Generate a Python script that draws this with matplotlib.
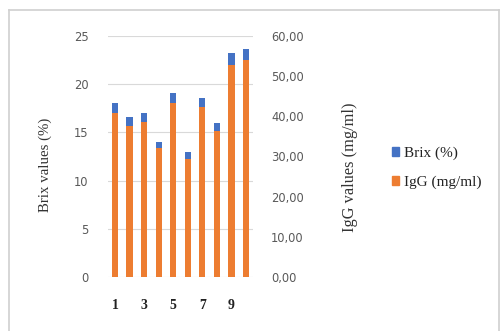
import matplotlib
matplotlib.use("Agg")
import matplotlib.pyplot as plt
from matplotlib.lines import Line2D
from matplotlib.patches import Patch

# colostrum samples: Brix refractometer reading and measured IgG
samples = [1, 2, 3, 4, 5, 6, 7, 8, 9, 10]
brix = [18.0, 16.6, 17.0, 14.0, 19.1, 13.0, 18.6, 16.0, 23.2, 23.7]
igg = [40.8, 37.6, 38.7, 32.0, 43.2, 29.5, 42.2, 36.3, 52.8, 54.0]
x_ticks = [1, 3, 5, 7, 9]
brix_ticks = [0, 5, 10, 15, 20, 25]
igg_ticks = [0, 10, 20, 30, 40, 50, 60]

BLUE = "#4472C4"
ORANGE = "#ED7D31"
GRID = "#D9D9D9"
TICK = "#595959"
SERIF = "Liberation Serif"

fig = plt.figure(figsize=(5.01, 3.31), dpi=100)

# chart frame (left/top/right edges)
fig.add_artist(Line2D([9 / 501, 9 / 501], [0, 1 - 10 / 331], color="#D0D0D0", lw=1.2))
fig.add_artist(Line2D([9 / 501, 499 / 501], [1 - 10 / 331, 1 - 10 / 331], color="#D0D0D0", lw=1.2))
fig.add_artist(Line2D([499 / 501, 499 / 501], [0, 1 - 10 / 331], color="#D0D0D0", lw=1.2))

ax = fig.add_axes([108 / 501, 1 - 277 / 331, 145 / 501, 241 / 331])
ax2 = ax.twinx()

width = 0.42
ax.bar(samples, brix, width=width, color=BLUE, zorder=2)
ax2.bar(samples, igg, width=width, color=ORANGE, zorder=2)

ax.set_xlim(0.52, 10.48)
ax.set_ylim(0, 25)
ax2.set_ylim(0, 60)
ax.set_yticks(brix_ticks)
ax2.set_yticks(igg_ticks)
ax2.set_yticklabels([f"{v:.2f}".replace(".", ",") for v in igg_ticks])
ax.set_xticks(x_ticks)
ax.set_xticklabels([str(v) for v in x_ticks], fontfamily=SERIF, fontweight="bold",
                   fontsize=10, color="#222222")

for a in (ax, ax2):
    for s in a.spines.values():
        s.set_visible(False)
ax.tick_params(axis="x", length=0, pad=16)
ax.tick_params(axis="y", length=0, pad=14, labelcolor=TICK)
ax2.tick_params(axis="y", length=0, pad=13, labelcolor=TICK)
for lbl in ax.get_yticklabels() + ax2.get_yticklabels():
    lbl.set_fontfamily("DejaVu Sans")
    lbl.set_fontsize(8.3)

ax.set_axisbelow(True)
ax.yaxis.grid(True, color=GRID, lw=0.8)
ax.set_zorder(1)
ax2.set_zorder(2)
ax2.patch.set_visible(False)

fig.text(45 / 501, 1 - 165 / 331, "Brix values (%)", rotation=90, ha="center", va="center",
         fontfamily=SERIF, fontsize=10.7, color="#333333")
fig.text(350 / 501, 1 - 167 / 331, "IgG values (mg/ml)", rotation=90, ha="center", va="center",
         fontfamily=SERIF, fontsize=11.8, color="#333333")

handles = [Patch(color=BLUE, label="Brix (%)"), Patch(color=ORANGE, label="IgG (mg/ml)")]
fig.legend(handles=handles, loc="upper left", bbox_to_anchor=(378 / 501, 1 - 133 / 331),
           frameon=False, prop={"family": SERIF, "size": 11},
           handlelength=0.5, handleheight=0.5, handletextpad=0.3, labelspacing=1.0,
           labelcolor="#222222")

fig.savefig("out.png", dpi=100)
